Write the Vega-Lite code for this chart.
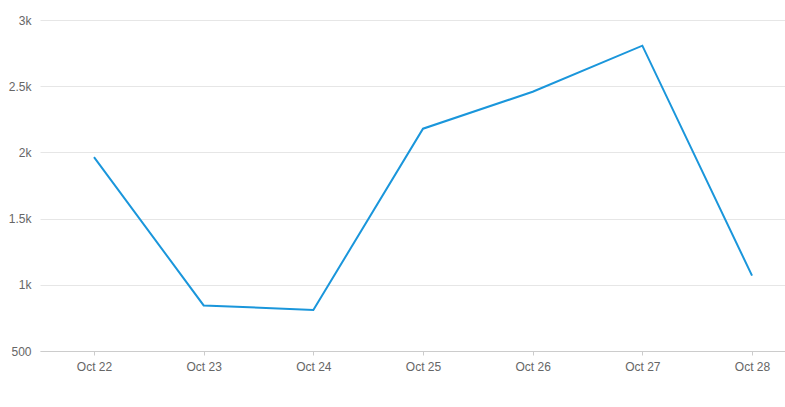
{
  "$schema": "https://vega.github.io/schema/vega-lite/v6.json",
  "autosize": "none",
  "width": 745,
  "height": 331,
  "padding": {"left": 40, "top": 20, "right": 0, "bottom": 56},
  "background": "#ffffff",
  "config": {
    "view": {"stroke": null},
    "font": "Liberation Sans"
  },
  "data": {
    "values": [
      {"date": "2023-10-22", "value": 1965},
      {"date": "2023-10-23", "value": 844},
      {"date": "2023-10-24", "value": 810},
      {"date": "2023-10-25", "value": 2179},
      {"date": "2023-10-26", "value": 2458},
      {"date": "2023-10-27", "value": 2806},
      {"date": "2023-10-28", "value": 1069}
    ]
  },
  "mark": {"type": "line", "color": "#1a96db", "strokeWidth": 2},
  "encoding": {
    "x": {
      "field": "date",
      "type": "temporal",
      "scale": {
        "type": "utc",
        "domain": [
          {"year": 2023, "month": 10, "date": 21, "hours": 12, "minutes": 11, "utc": true},
          {"year": 2023, "month": 10, "date": 28, "hours": 7, "minutes": 13, "utc": true}
        ],
        "nice": false
      },
      "axis": {
        "title": null,
        "values": [
          {"year": 2023, "month": 10, "date": 22, "utc": true},
          {"year": 2023, "month": 10, "date": 23, "utc": true},
          {"year": 2023, "month": 10, "date": 24, "utc": true},
          {"year": 2023, "month": 10, "date": 25, "utc": true},
          {"year": 2023, "month": 10, "date": 26, "utc": true},
          {"year": 2023, "month": 10, "date": 27, "utc": true},
          {"year": 2023, "month": 10, "date": 28, "utc": true}
        ],
        "labelExpr": "utcFormat(datum.value, '%b %d')",
        "labelAngle": 0,
        "labelColor": "#666666",
        "labelFontSize": 12,
        "labelPadding": 6,
        "labelFlush": false,
        "domainColor": "#cccccc",
        "tickColor": "#cccccc",
        "tickSize": 4,
        "grid": false
      }
    },
    "y": {
      "field": "value",
      "type": "quantitative",
      "scale": {"domain": [500, 3000], "nice": false, "zero": false},
      "axis": {
        "title": null,
        "values": [500, 1000, 1500, 2000, 2500, 3000],
        "labelExpr": "datum.value >= 1000 ? format(datum.value / 1000, '~g') + 'k' : format(datum.value, 'd')",
        "labelColor": "#666666",
        "labelFontSize": 12,
        "labelPadding": 9,
        "domain": false,
        "ticks": false,
        "gridColor": "#e6e6e6",
        "gridWidth": 1
      }
    }
  }
}
